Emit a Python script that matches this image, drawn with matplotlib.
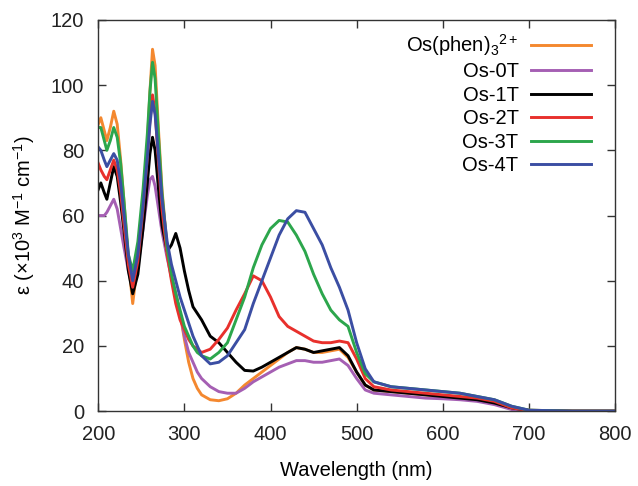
import matplotlib
matplotlib.use("Agg")
import matplotlib.pyplot as plt

plt.rcParams['font.family'] = ['Liberation Sans', 'DejaVu Sans']
plt.rcParams['mathtext.fontset'] = 'custom'
plt.rcParams['mathtext.rm'] = 'Liberation Sans'
plt.rcParams['mathtext.it'] = 'Liberation Sans:italic'
plt.rcParams['mathtext.bf'] = 'Liberation Sans:bold'

# wavelength grid (nm)
wl = [200, 203, 207, 210, 214, 218, 222, 226, 230, 235, 240, 246, 252, 257, 260,
      263, 266, 270, 274, 280, 285, 290, 295, 300, 305, 310, 315, 320,
      330, 340, 350, 360, 370, 380, 390, 400, 410, 420, 430, 440, 450, 460, 470, 480,
      490, 500, 510, 520, 540, 560, 580, 600, 620, 640, 660, 680, 700, 750, 800]

# epsilon values (x10^3 M^-1 cm^-1)
os_phen = [88, 90, 86, 83, 87, 92, 88, 77, 64, 46, 33, 46, 64, 82, 98,
           111, 106, 86, 68, 50, 41, 36, 30, 22, 15, 10, 7, 5,
           3.5, 3.2, 3.8, 5.5, 8, 10, 12, 14, 16, 18, 19.5, 19, 18, 18, 18.5, 19,
           16.5, 12, 8, 6.5, 6, 5.5, 5, 4.5, 4, 3.5, 2.5, 1, 0.3, 0, 0]
os_0t = [60, 60, 60, 61, 63, 65, 62, 56, 50, 43, 38, 44, 56, 66, 71,
         72, 69, 62, 55, 47, 41, 36, 30, 23, 18, 15, 12, 10,
         7.5, 6, 5.5, 5.5, 7, 9, 10.5, 12, 13.5, 14.5, 15.5, 15.5, 15, 15, 15.5, 16,
         14, 10, 6.5, 5.5, 5, 4.5, 4, 3.8, 3.5, 3, 2, 0.5, 0.1, 0, 0]
os_1t = [68, 70, 67, 65, 70, 75, 72, 64, 55, 43, 36, 42, 56, 70, 79,
         84, 80, 68, 57, 49, 51, 54.5, 50, 43, 37, 32, 30, 28,
         23, 21, 18, 15, 12.5, 12.3, 13.5, 15, 16.5, 18, 19.5, 19, 18, 18.5, 19, 19.5,
         17, 12, 8, 6.5, 6, 5.5, 5, 4.5, 4, 3.5, 2.5, 1, 0.2, 0, 0]
os_2t = [76, 74, 72, 71, 74, 77, 74, 67, 57, 45, 38, 46, 62, 78, 89,
         97, 92, 76, 62, 48, 40, 33, 28, 25, 22, 20, 19, 18,
         19, 22, 25.5, 31, 36, 41.5, 40, 35, 29, 26, 24.5, 23, 21.5, 21, 21, 21.5,
         21, 16, 10, 7.5, 6.5, 6, 5.5, 5, 4.5, 4, 3, 1, 0.2, 0, 0]
os_3t = [87, 87, 83, 80, 83, 87, 84, 76, 64, 48, 43, 52, 68, 85, 98,
         107, 102, 84, 67, 50, 42, 36, 31, 26, 23, 20, 18, 17,
         16, 18, 21, 28, 35, 44, 51, 56, 58.5, 58, 54, 49, 42, 36, 31, 28,
         26, 18, 11.5, 9, 7.5, 7, 6.5, 6, 5.5, 4.5, 3.5, 1.5, 0.3, 0, 0]
os_4t = [81, 80, 77, 75, 77, 79, 77, 70, 60, 48, 40, 48, 63, 78, 88,
         95, 91, 78, 65, 52, 45, 40, 35, 31, 27, 23, 20, 17,
         14.5, 15, 17, 21, 25, 33, 40, 47, 54, 59, 61.5, 61, 56, 51, 44, 38,
         31, 21, 13, 9, 7.5, 7, 6.5, 6, 5.5, 4.5, 3.5, 1.5, 0.3, 0, 0]

labels = ['Os(phen)$_3$$^{2+}$', 'Os-0T', 'Os-1T', 'Os-2T', 'Os-3T', 'Os-4T']
colors = ['#f4882f', '#a55fb3', '#000000', '#e8302c', '#2ca64c', '#3b4ea3']
series = [os_phen, os_0t, os_1t, os_2t, os_3t, os_4t]

fig = plt.figure(figsize=(6.38, 4.86), dpi=100)
ax = fig.add_axes([0.154, 0.154, 0.81, 0.805])

for ys, c, lab in zip(series, colors, labels):
    ax.plot(wl, ys, color=c, lw=2.1, label=lab, solid_joinstyle='round')

ax.set_xlim(200, 800)
ax.set_ylim(0, 120)
ax.set_xticks(range(200, 801, 100))
ax.set_yticks(range(0, 121, 20))
ax.tick_params(direction='in', length=6, width=1, top=True, right=True,
               labelsize=14.5, pad=10, colors='#333333', labelcolor='#222222')
for sp in ax.spines.values():
    sp.set_linewidth(1)
    sp.set_color('#333333')

ax.set_xlabel('Wavelength (nm)', fontsize=14.5, labelpad=12)
ax.set_ylabel('ε (×10$^{3}$ M$^{-1}$ cm$^{-1}$)', fontsize=14.5, labelpad=10)

# gnuplot-like key: labels right-aligned, samples on the right
ax.legend(loc='upper right', bbox_to_anchor=(0.977, 1.0), frameon=False,
          markerfirst=False, fontsize=14.5, handlelength=3.0,
          labelspacing=0.22, handletextpad=0.6, borderaxespad=0.2)

fig.savefig('out.png', dpi=100)
